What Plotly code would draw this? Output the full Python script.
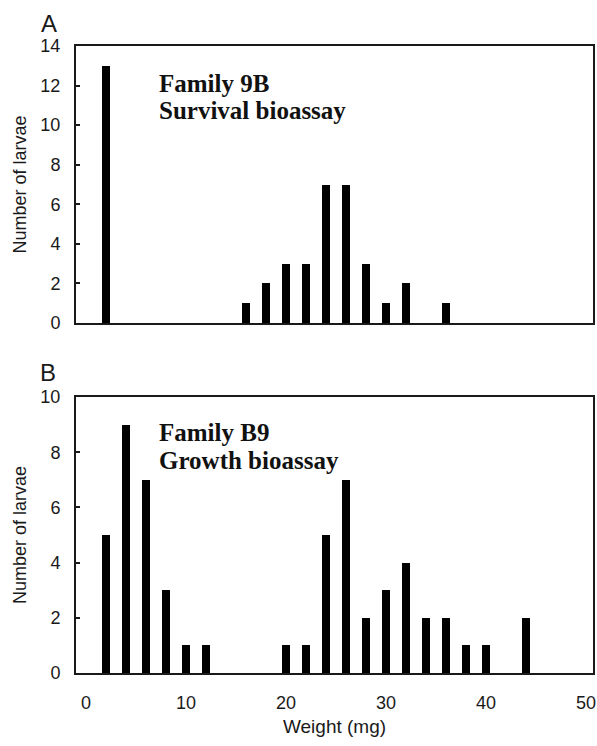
import plotly.graph_objects as go

# Panel A: Family 9B, survival bioassay
weight_a = [2, 16, 18, 20, 22, 24, 26, 28, 30, 32, 36]
count_a = [13, 1, 2, 3, 3, 7, 7, 3, 1, 2, 1]

# Panel B: Family B9, growth bioassay
weight_b = [2, 4, 6, 8, 10, 12, 20, 22, 24, 26, 28, 30, 32, 34, 36, 38, 40, 44]
count_b = [5, 9, 7, 3, 1, 1, 1, 1, 5, 7, 2, 3, 4, 2, 2, 1, 1, 2]

x_ticks = [0, 10, 20, 30, 40, 50]
y_ticks_a = [0, 2, 4, 6, 8, 10, 12, 14]
y_ticks_b = [0, 2, 4, 6, 8, 10]

fig = go.Figure()
fig.add_trace(go.Bar(x=weight_a, y=count_a, width=0.85, marker=dict(color="black", line=dict(width=0)),
                     xaxis="x", yaxis="y", showlegend=False))
fig.add_trace(go.Bar(x=weight_b, y=count_b, width=0.85, marker=dict(color="black", line=dict(width=0)),
                     xaxis="x2", yaxis="y2", showlegend=False))

sans = "Liberation Sans, Arial, sans-serif"
serif = "Liberation Serif, Times New Roman, serif"
ink = "#1a1a1a"

axis_common = dict(showline=True, linecolor=ink, linewidth=2, mirror=True,
                   showgrid=False, zeroline=False, automargin=False)

L, R, T, B = 76, 4, 46, 73
W, H = 597, 746
PW, PH = W - L - R, H - T - B

ytick_style = dict(ticks="inside", ticklen=4, tickwidth=1.5, tickcolor=ink,
                   ticklabelstandoff=10,
                   tickfont=dict(family=sans, size=18, color=ink))
ytitle = dict(text="Number of larvae", font=dict(family=sans, size=18, color=ink), standoff=9)

fig.update_layout(
    width=W, height=H,
    margin=dict(l=L, r=R, t=T, b=B),
    paper_bgcolor="white", plot_bgcolor="white",
    bargap=0,
    xaxis=dict(domain=[0, 1], anchor="y", range=[-1, 50.7], tickvals=x_ticks,
               showticklabels=False, ticks="", **axis_common),
    yaxis=dict(domain=[0.5582, 1.0], anchor="x", range=[0, 14], tickvals=y_ticks_a,
               title=ytitle, **ytick_style, **axis_common),
    xaxis2=dict(domain=[0, 1], anchor="y2", range=[-1, 50.7], tickvals=x_ticks,
                ticks="", ticklabelstandoff=12,
                tickfont=dict(family=sans, size=18, color=ink),
                title=dict(text="Weight (mg)", font=dict(family=sans, size=19, color=ink),
                           standoff=8),
                **axis_common),
    yaxis2=dict(domain=[0, 0.4402], anchor="x2", range=[0, 10], tickvals=y_ticks_b,
                title=ytitle, **ytick_style, **axis_common),
)

ann_font = dict(family=serif, size=25, color="#111111")
fig.add_annotation(x=7.1, y=12.1, xref="x", yref="y", text="<b>Family 9B</b>", showarrow=False,
                   xanchor="left", yanchor="middle", font=ann_font)
fig.add_annotation(x=7.1, y=10.75, xref="x", yref="y", text="<b>Survival bioassay</b>", showarrow=False,
                   xanchor="left", yanchor="middle", font=ann_font)
fig.add_annotation(x=7.1, y=8.7, xref="x2", yref="y2", text="<b>Family B9</b>", showarrow=False,
                   xanchor="left", yanchor="middle", font=ann_font)
fig.add_annotation(x=7.1, y=7.7, xref="x2", yref="y2", text="<b>Growth bioassay</b>", showarrow=False,
                   xanchor="left", yanchor="middle", font=ann_font)

label_font = dict(family=sans, size=24, color=ink)
fig.add_annotation(xref="paper", yref="paper", x=(49 - L) / PW, y=(H - B - 24) / PH,
                   text="A", showarrow=False, xanchor="center", yanchor="middle", font=label_font)
fig.add_annotation(xref="paper", yref="paper", x=(48 - L) / PW, y=(H - B - 373) / PH,
                   text="B", showarrow=False, xanchor="center", yanchor="middle", font=label_font)

fig.write_html("out.html",
               config={"displayModeBar": False},
               post_script="document.body.style.margin='0';document.body.style.overflow='hidden';")
